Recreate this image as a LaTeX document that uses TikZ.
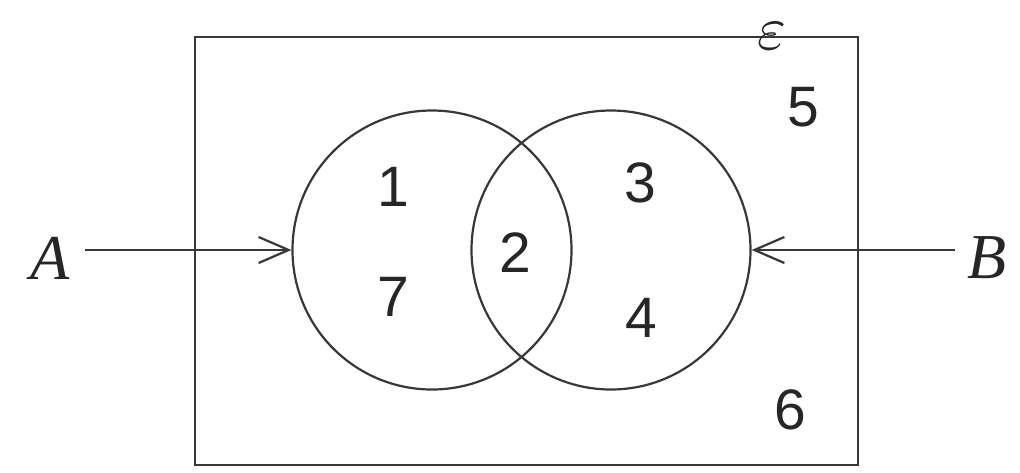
\documentclass[tikz,border=0pt]{standalone}
\usepackage{fontspec}
\setsansfont{Liberation Sans}
\newfontfamily\labfont{Liberation Serif}
\usetikzlibrary{arrows.meta}
\definecolor{ink}{gray}{0.22}
\tikzset{
  ln/.style={draw=ink, line width=2.2pt},
  num/.style={font=\sffamily\fontsize{57}{57}\selectfont, text=black!85, inner sep=0pt},
  setlab/.style={font=\labfont\itshape\fontsize{64}{64}\selectfont, text=black!85, inner sep=0pt},
  venn/.style={ln, circle, minimum size=279pt, inner sep=0pt},
  barb/.style={ln, -{Straight Barb[length=30pt,width=26pt,line width=2.2pt]}}
}
\begin{document}
\begin{tikzpicture}[x=1pt,y=-1pt]
\useasboundingbox (0,0) rectangle (1020,472);
\node[ln, rectangle, minimum width=663pt, minimum height=428pt, inner sep=0pt] (U) at (526.5,251) {};
\node[venn] (cA) at (432,250) {};
\node[venn] (cB) at (611,250) {};
\node[num] (n1) at (393,187) {1};
\node[num] (n7) at (393,297) {7};
\node[num] (n2) at (515,253) {2};
\node[num] (n3) at (640,183) {3};
\node[num] (n4) at (641,318) {4};
\node[num] (n5) at (803,107) {5};
\node[num] (n6) at (790,410) {6};
\node[inner sep=0pt, text=black!85, scale=6.2] (eps) at (772,36) {$\varepsilon$};
\node[setlab] (A) at (50,258) {A};
\node[setlab] (B) at (987,258) {B};
\coordinate (aS) at (85,250);
\coordinate (bS) at (955,250);
\draw[barb] (aS) -- (cA.west);
\draw[barb] (bS) -- (cB.east);
\end{tikzpicture}
\end{document}
